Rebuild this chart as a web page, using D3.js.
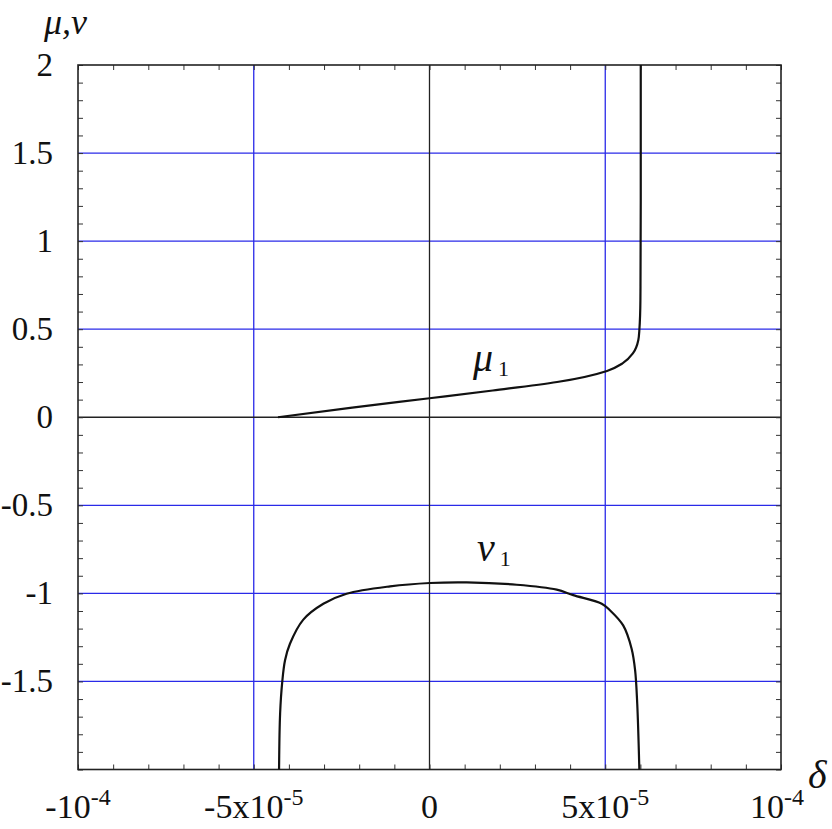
<!DOCTYPE html>
<html>
<head>
<meta charset="utf-8">
<script src="https://cdn.jsdelivr.net/npm/d3@7"></script>
<style>
  body { margin: 0; background: #fff; }
</style>
</head>
<body>
<svg id="chart"></svg>
<script>
// delta in units of 1e-5
const muDelta = [-4.31, -2.2, 0, 1.8, 3.63, 5.05, 5.5, 5.79, 5.94, 5.97, 6.0, 6.01, 6.01];
const muVals = [0, 0.055, 0.108, 0.152, 0.20, 0.263, 0.307, 0.364, 0.4375, 0.494, 0.665, 1.233, 2.0];

const nuDelta = [-4.28, -4.25, -4.19, -4.11, -3.97, -3.59, -3.02, -2.36, -1.12, 0.01, 1.06,
    2.48, 3.62, 4.09, 4.90, 5.14, 5.51, 5.75, 5.85, 5.91, 5.97];
const nuVals = [-2, -1.682, -1.504, -1.38, -1.286, -1.149, -1.059, -1.002, -0.960, -0.941, -0.9375,
    -0.951, -0.979, -1.010, -1.059, -1.097, -1.182, -1.314, -1.4375, -1.627, -2];

const xTicks = [-10, -5, 0, 5, 10];
const xTickBase = ["-10", "-5x10", "0", "5x10", "10"];
const xTickSup = ["-4", "-5", "", "-5", "-4"];
const yTicks = [-1.5, -1, -0.5, 0, 0.5, 1, 1.5, 2];
const yTickLabels = ["-1.5", "-1", "-0.5", "0", "0.5", "1", "1.5", "2"];
const gridX = [-5, 5];
const gridY = [-1.5, -1, -0.5, 0.5, 1, 1.5];

const width = 832, height = 829;
const margin = { top: 65, right: 51, bottom: 59.5, left: 78 };
const serif = "'Liberation Serif', 'Times New Roman', serif";

const svg = d3.select("#chart").attr("width", width).attr("height", height)
    .attr("font-family", serif);

const x = d3.scaleLinear().domain([-10, 10]).range([margin.left, width - margin.right]);
const y = d3.scaleLinear().domain([-2, 2]).range([height - margin.bottom, margin.top]);

const blue = "#2a2ae8";

// blue grid
svg.selectAll(".gx").data(gridX).enter().append("line")
    .attr("x1", d => x(d)).attr("x2", d => x(d))
    .attr("y1", y(-2)).attr("y2", y(2))
    .attr("stroke", blue).attr("stroke-width", 1.3);
svg.selectAll(".gy").data(gridY).enter().append("line")
    .attr("x1", x(-10)).attr("x2", x(10))
    .attr("y1", d => y(d)).attr("y2", d => y(d))
    .attr("stroke", blue).attr("stroke-width", 1.3);

// zero lines
svg.append("line").attr("x1", x(0)).attr("x2", x(0)).attr("y1", y(-2)).attr("y2", y(2))
    .attr("stroke", "#222").attr("stroke-width", 1.3);
svg.append("line").attr("x1", x(-10)).attr("x2", x(10)).attr("y1", y(0)).attr("y2", y(0))
    .attr("stroke", "#222").attr("stroke-width", 1.3);

// minor ticks on all sides, pointing inward
const tickLen = 5;
const xMinor = d3.range(-10, 10.01, 1);
const yMinor = d3.range(-2, 2.001, 0.1);

svg.append("g").attr("transform", `translate(0,${y(-2)})`)
    .call(d3.axisTop(x).tickValues(xMinor).tickSize(tickLen).tickFormat(""))
    .call(g => g.select(".domain").remove());
svg.append("g").attr("transform", `translate(0,${y(2)})`)
    .call(d3.axisBottom(x).tickValues(xMinor).tickSize(tickLen).tickFormat(""))
    .call(g => g.select(".domain").remove());
svg.append("g").attr("transform", `translate(${x(-10)},0)`)
    .call(d3.axisRight(y).tickValues(yMinor).tickSize(tickLen).tickFormat(""))
    .call(g => g.select(".domain").remove());
svg.append("g").attr("transform", `translate(${x(10)},0)`)
    .call(d3.axisLeft(y).tickValues(yMinor).tickSize(tickLen).tickFormat(""))
    .call(g => g.select(".domain").remove());
svg.selectAll(".tick line").attr("stroke", "#333").attr("stroke-width", 1);

// frame
svg.append("rect")
    .attr("x", x(-10)).attr("y", y(2))
    .attr("width", x(10) - x(-10)).attr("height", y(-2) - y(2))
    .attr("fill", "none").attr("stroke", "#222").attr("stroke-width", 1.6);

// curves
const muLine = d3.line().x(d => x(d[0])).y(d => y(d[1])).curve(d3.curveMonotoneY);
const nuLine = d3.line().x(d => x(d[0])).y(d => y(d[1])).curve(d3.curveCatmullRom.alpha(0.5));
svg.append("path")
    .datum(muDelta.map((d, i) => [d, muVals[i]]))
    .attr("d", muLine).attr("fill", "none").attr("stroke", "#111").attr("stroke-width", 2.2)
    .attr("stroke-linejoin", "round");
svg.append("path")
    .datum(nuDelta.map((d, i) => [d, nuVals[i]]))
    .attr("d", nuLine).attr("fill", "none").attr("stroke", "#111").attr("stroke-width", 2.2)
    .attr("stroke-linejoin", "round");

// y tick labels
svg.selectAll(".ylab").data(yTicks).enter().append("text")
    .attr("x", 53).attr("y", d => y(d) + 11)
    .attr("text-anchor", "end").attr("font-size", 33).attr("fill", "#111")
    .text((d, i) => yTickLabels[i]);

// x tick labels
xTicks.forEach((t, i) => {
    const txt = svg.append("text")
        .attr("x", x(t) - (t === 10 ? 4 : 0)).attr("y", 818)
        .attr("text-anchor", "middle").attr("font-size", 34).attr("fill", "#111");
    txt.append("tspan").text(xTickBase[i]);
    if (xTickSup[i]) {
        txt.append("tspan").attr("dy", -13).attr("font-size", 24).text(xTickSup[i]);
    }
});

// axis titles
svg.append("text").attr("x", 44).attr("y", 34).attr("fill", "#111")
    .attr("font-size", 36).attr("font-style", "italic").text("μ,ν");
svg.append("text").attr("x", 808).attr("y", 788).attr("fill", "#111")
    .attr("font-size", 40).attr("font-style", "italic").text("δ");

// curve labels
const lab1 = svg.append("text").attr("x", 473).attr("y", 371).attr("font-size", 40)
    .attr("font-style", "italic").attr("fill", "#111");
lab1.append("tspan").text("μ");
lab1.append("tspan").attr("dx", 5).attr("dy", 5).attr("font-size", 22).attr("font-style", "normal").text("1");

const lab2 = svg.append("text").attr("x", 477).attr("y", 561).attr("font-size", 40)
    .attr("font-style", "italic").attr("fill", "#111");
lab2.append("tspan").text("ν");
lab2.append("tspan").attr("dx", 5).attr("dy", 5).attr("font-size", 22).attr("font-style", "normal").text("1");
</script>
</body>
</html>
